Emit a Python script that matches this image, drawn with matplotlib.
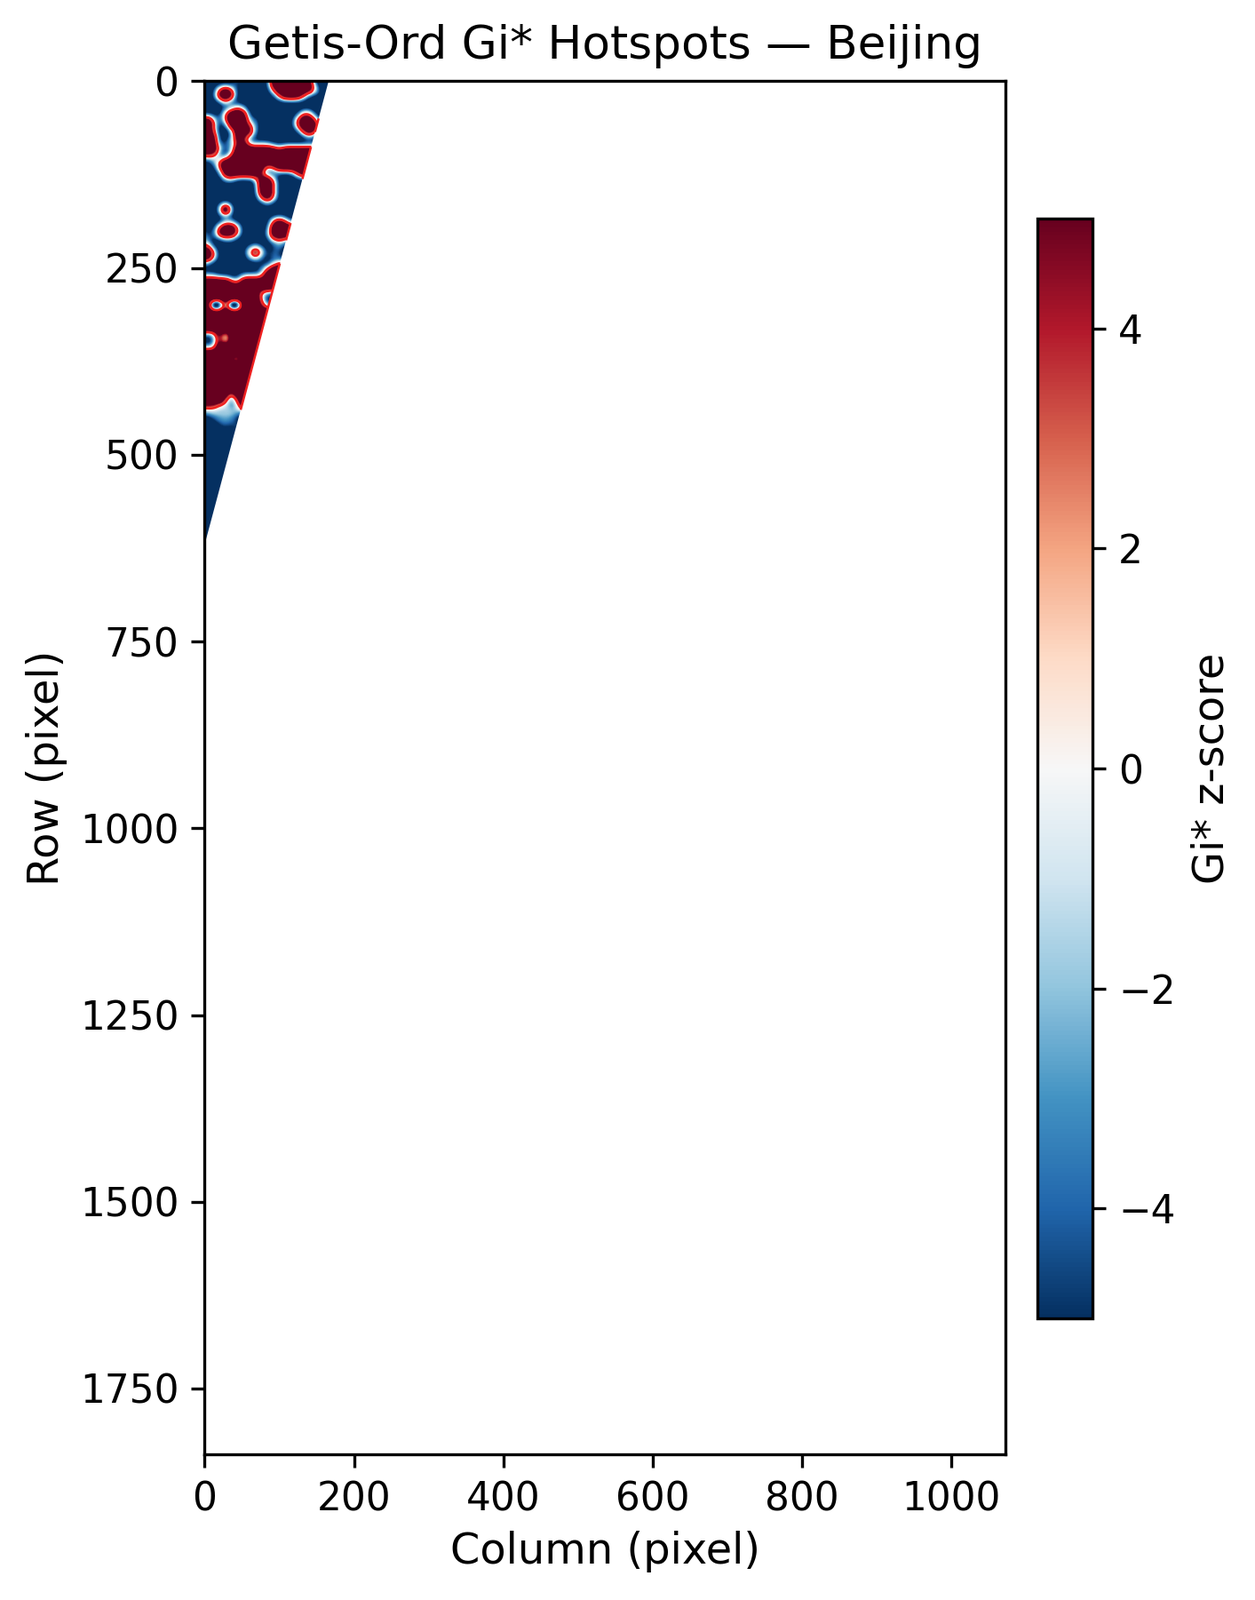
import numpy as np
import matplotlib
matplotlib.use("Agg")
import matplotlib.pyplot as plt
from matplotlib.patches import Polygon

TITLE = "Getis-Ord Gi* Hotspots — Beijing"
XLABEL = "Column (pixel)"
YLABEL = "Row (pixel)"
CBAR_LABEL = "Gi* z-score"
X_TICKS = [0, 200, 400, 600, 800, 1000]
Y_TICKS = [0, 250, 500, 750, 1000, 1250, 1500, 1750]
CBAR_TICKS = [-4, -2, 0, 2, 4]
X_MAX = 1073
Y_MAX = 1838
Z_LIMIT = 5
CONTOUR_LEVEL = 1.96

# z-score, one character per 8x8 data-pixel cell
CELL = 8
LEVELS = {'@': 26, '#': 11, '%': 3.5, '+': 3, 'w': -1.2, 'v': -6, '-': -3, ':': -5,
          '.': -7, 'x': -22}
Z_ROWS = [
    ".....-.....#####+#...",
    "..+#+......+######+..",
    "..###.......+###+....",
    "...+.................",
    "....-+-..............",
    "...+###.........++...",
    "#+.+###--......+##+..",
    "#+..###+-......+###..",
    "#+...###-.......+#+..",
    "##..-#+-.........-...",
    "##.--+#----..........",
    "##+.-#######+########",
    "++..+################",
    ".-+##################",
    "..+#######-+#########",
    "...######+.....+#####",
    "...-w...-##+.........",
    ".........##+.........",
    ".........##+.........",
    ".........+#+.........",
    "...-......-..........",
    "..-@-..........-.....",
    "...-...........-.....",
    "...--......+#+.......",
    "..+##+.....##########",
    "-.###+....-##########",
    "-..--......+++.......",
    "+.......-...-........",
    "#+.....+#+.--........",
    "#+.....-+-.-.........",
    "-..........-+++++++++",
    ".........-+##########",
    "--....----###########",
    "####+-###############",
    "#####################",
    "#########--..........",
    "#########+...........",
    "#xx#xx###+-..........",
    "#####################",
    "#####################",
    "#####################",
    "#####################",
    "vv#v#################",
    "vv#v#################",
    "--###################",
    "#####################",
    "####%v###############",
    "#####################",
    "#####################",
    "#####################",
    "#####################",
    "#####################",
    "####-################",
    "###+.+###############",
    "++-w--###############",
    "-wwwww...............",
    ".:---................",
    "..:-:-...............",
    ".....::..............",
    ".....................",
] + ["....................."] * 18

# the valid data stops at this slanted edge
WEDGE_ROWS = [0, 620]
WEDGE_COLS = [166, 0]
# stretches of the slanted edge that sit against hot cells
HOT_EDGE_ROWS = [(50, 68), (88, 131), (190, 213), (244, 440)]


def smooth_upsample(grid, factor, width):
    fine = np.kron(grid, np.ones((factor, factor)))
    kernel = np.ones(width) / width
    kernel = np.convolve(kernel, kernel)
    pad = len(kernel) // 2
    padded = np.pad(fine, pad, mode="edge")
    padded = np.apply_along_axis(lambda v: np.convolve(v, kernel, mode="same"), 0, padded)
    padded = np.apply_along_axis(lambda v: np.convolve(v, kernel, mode="same"), 1, padded)
    return padded[pad:-pad, pad:-pad]


fig = plt.figure(figsize=(1414 / 300, 1801 / 300), dpi=300)
W, H = 1414, 1801
ax = fig.add_axes([230.5 / W, 1 - 1637 / H, (1132 - 230.5) / W, (1637 - 91.3) / H])
cax = fig.add_axes([1168 / W, 1 - 1484 / H, 62 / W, (1484 - 246) / H])

z = np.array([[LEVELS[c] for c in row] for row in Z_ROWS], dtype=float)
factor = CELL // 2
zf = smooth_upsample(z, factor, factor + 2)
extent = (0, z.shape[1] * CELL, z.shape[0] * CELL, 0)
im = ax.imshow(zf, cmap="RdBu_r", vmin=-Z_LIMIT, vmax=Z_LIMIT, extent=extent,
               interpolation="bilinear", interpolation_stage="data", aspect="auto")
wedge = Polygon([(0, 0), (WEDGE_COLS[0], WEDGE_ROWS[0]), (WEDGE_COLS[1], WEDGE_ROWS[1])],
                closed=True, transform=ax.transData)
im.set_clip_path(wedge)

xs = (np.arange(zf.shape[1]) + 0.5) * CELL / factor
ys = (np.arange(zf.shape[0]) + 0.5) * CELL / factor
cs = ax.contour(xs, ys, zf, levels=[CONTOUR_LEVEL], colors="#ee2020", linewidths=0.6)
cs.set_clip_path(wedge)

for r0, r1 in HOT_EDGE_ROWS:
    rows = np.array([r0, r1], dtype=float)
    cols = np.interp(rows, WEDGE_ROWS, WEDGE_COLS)
    ax.plot(cols, rows, color="#ee2020", lw=0.6, solid_capstyle="butt")

ax.set_xlim(0, X_MAX)
ax.set_ylim(Y_MAX, 0)
ax.set_xticks(X_TICKS)
ax.set_yticks(Y_TICKS)
ax.tick_params(labelsize=10.5)
ax.set_xlabel(XLABEL, fontsize=11.5, labelpad=3.4)
ax.set_ylabel(YLABEL, fontsize=11.5, labelpad=3.2)
ax.set_title(TITLE, fontsize=12.4)

cb = fig.colorbar(im, cax=cax)
cb.set_ticks(CBAR_TICKS)
cb.ax.tick_params(labelsize=10.5)
cb.set_label(CBAR_LABEL, fontsize=11.5)

fig.savefig("out.png", dpi=300)
